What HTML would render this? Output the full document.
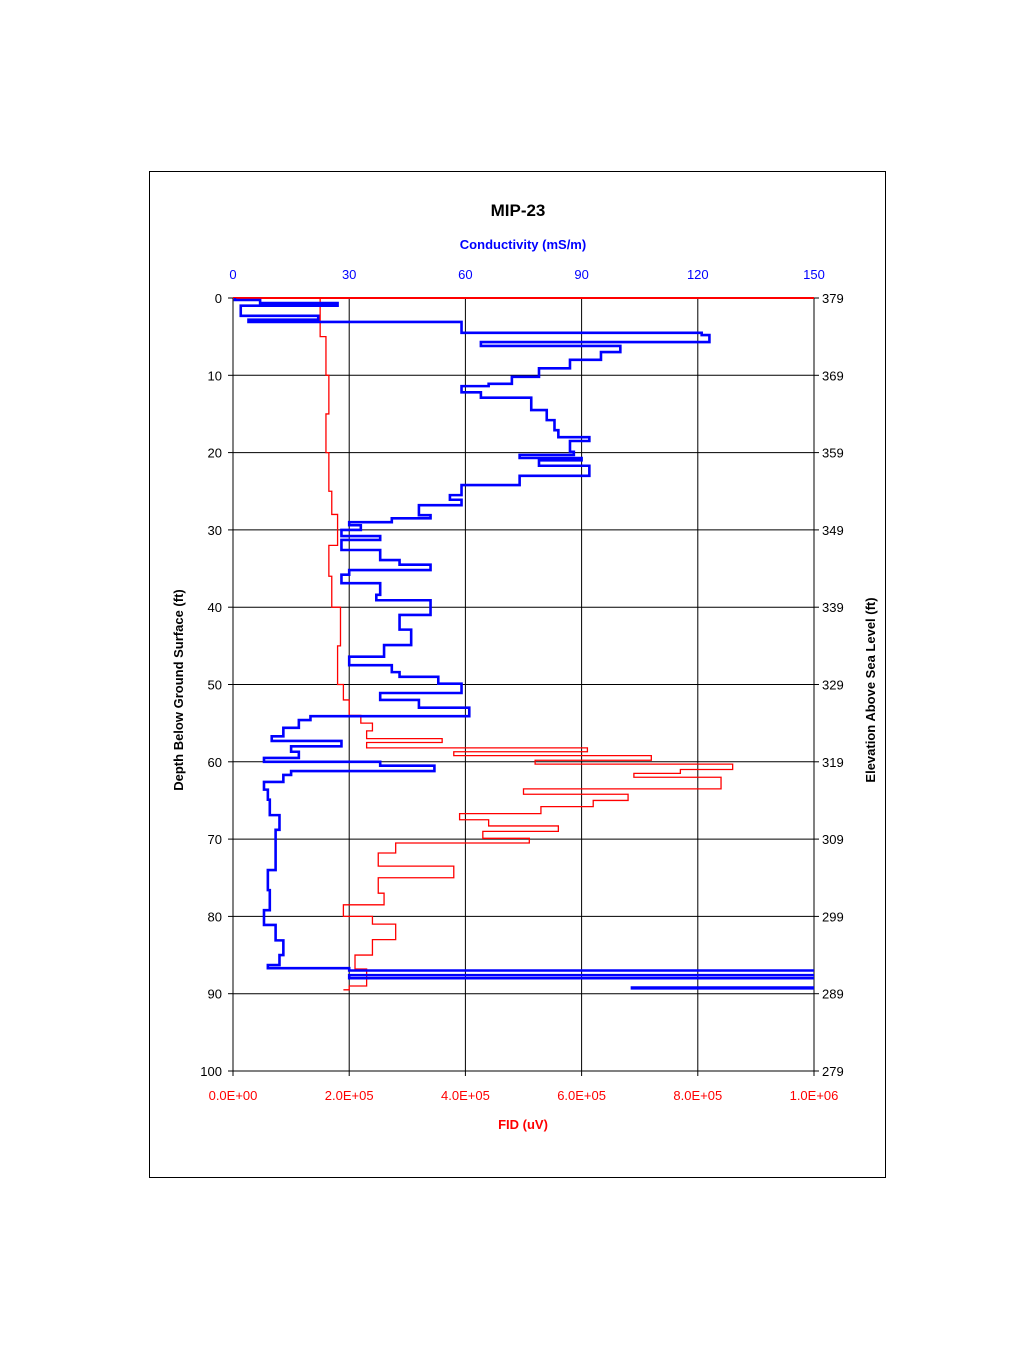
<!DOCTYPE html>
<html><head><meta charset="utf-8"><style>
body{margin:0;background:#fff;}
svg text{font-family:"Liberation Sans",Arial,sans-serif;}
</style></head><body>
<svg width="1024" height="1365" xmlns="http://www.w3.org/2000/svg">
<rect x="149.5" y="171.5" width="736" height="1006" fill="#fff" stroke="#000" stroke-width="1"/>
<text x="518" y="216" font-size="17" font-weight="bold" text-anchor="middle">MIP-23</text>
<text x="523" y="249" font-size="13" font-weight="bold" fill="#0000ff" text-anchor="middle">Conductivity (mS/m)</text>
<text x="523" y="1129" font-size="13" font-weight="bold" fill="#ff0000" text-anchor="middle">FID (uV)</text>
<text transform="translate(183,690) rotate(-90)" font-size="13" font-weight="bold" text-anchor="middle">Depth Below Ground Surface (ft)</text>
<text transform="translate(875,690) rotate(-90)" font-size="13" font-weight="bold" text-anchor="middle">Elevation Above Sea Level (ft)</text>
<g id="grid"></g>
<g id="axes"></g>
<defs><clipPath id="clip"><rect x="233" y="290" width="581" height="790"/></clipPath></defs>
<g id="series" clip-path="url(#clip)"></g>
</svg>
<script>
const depthTicks=[0,10,20,30,40,50,60,70,80,90,100];
const elevTicks=['379','369','359','349','339','329','319','309','299','289','279'];
const condTicks=[0,30,60,90,120,150];
const fidTicks=['0.0E+00','2.0E+05','4.0E+05','6.0E+05','8.0E+05','1.0E+06'];
const condDepth=[0,0.26,0.65,1.0,2.3,2.8,3.1,4.5,4.8,5.7,6.2,7.0,8.0,9.1,10.2,11.1,11.4,12.2,12.9,14.5,15.8,17.1,18.0,18.5,19.9,20.3,20.7,21.0,21.7,23.0,24.2,25.5,26.1,26.8,28.1,28.5,29.0,29.4,30.0,30.8,31.3,32.6,33.9,34.5,35.2,35.8,36.9,38.4,39.1,41.0,42.9,44.9,46.4,47.5,48.4,49.0,49.9,51.1,52.0,53.0,54.1,54.6,55.6,56.7,57.3,58.0,58.7,59.5,60.0,60.5,61.2,61.7,62.6,63.6,64.9,66.9,68.8,71.4,74.0,76.6,79.2,81.1,83.1,85.0,86.3,86.7,87.0,87.6,88.0,88.8,89.2,89.3];
const condValues=[0.5,7,27,2,22,4,59,121,123,64,100,95,87,79,72,66,59,64,77,81,83,84,92,87,88,74,90,79,92,74,59,56,59,48,51,41,30,33,28,38,28,38,43,51,30,28,38,37,51,43,46,39,30,41,43,53,59,38,48,61,20,17,13,10,28,15,17,8,38,52,15,13,8,9,9.5,12,11,11,9,9.5,8,11,13,12,9,30,200,30,200,200,103,200];
const fidDepth=[0,1.5,5,10,15,20,25,28,32,36,40,45,50,52,54,55,56,57,57.5,58.2,58.7,59.2,59.8,60.3,61,61.5,62,62.8,63.5,64.2,65,65.8,66.7,67.5,68.3,69,69.9,70.5,71.8,73.5,75,77,78.5,80,81,83,85,86.8,88,89,89.5];
const fidValues=[1.5,1.5,1.6,1.65,1.6,1.65,1.7,1.8,1.65,1.7,1.85,1.8,1.9,2.0,2.2,2.4,2.3,3.6,2.3,6.1,3.8,7.2,5.2,8.6,7.7,6.9,8.4,8.4,5.0,6.8,6.2,5.3,3.9,4.4,5.6,4.3,5.1,2.8,2.5,3.8,2.5,2.6,1.9,2.4,2.8,2.4,2.1,2.3,2.3,2.0,1.9];
const X0=233,X1=814,Y0=298,Y1=1071,NS='http://www.w3.org/2000/svg';
const yD=d=>Y0+(Y1-Y0)*d/100, xC=c=>X0+(X1-X0)*c/150, xF=f=>X0+(X1-X0)*f/10;
function mk(tag,attrs,parent,text){const e=document.createElementNS(NS,tag);for(const k in attrs)e.setAttribute(k,attrs[k]);if(text!==undefined)e.textContent=text;document.getElementById(parent).appendChild(e);return e;}
depthTicks.forEach((d,i)=>{const y=yD(d);
 const l=mk('line',{x1:X0,x2:X1,y1:y,y2:y,stroke:'#000','stroke-width':1},'grid');
 
 
 const t=mk('text',{x:222,y:y+5,'font-size':13,'text-anchor':'end'},'axes',String(d));
 
 
 const r=mk('text',{x:822,y:y+5,'font-size':13},'axes',elevTicks[i]);
 
 
 mk('line',{x1:X0-5,x2:X0,y1:y,y2:y,stroke:'#000'},'axes');
 mk('line',{x1:X1,x2:X1+5,y1:y,y2:y,stroke:'#000'},'axes');
});
condTicks.forEach((c,i)=>{const x=xC(c);
 const l=mk('line',{x1:x,x2:x,y1:Y0,y2:Y1,stroke:'#000','stroke-width':1},'grid');
 
 
 const t=mk('text',{x:x,y:279,'font-size':13,fill:'#0000ff','text-anchor':'middle'},'axes',String(c));
 
 
 const b=mk('text',{x:x,y:1100,'font-size':13,fill:'#ff0000','text-anchor':'middle'},'axes',fidTicks[i]);
 
 
 mk('line',{x1:x,x2:x,y1:Y1,y2:Y1+5,stroke:'#000'},'axes');
});
const tl=mk('line',{x1:X0,x2:X1,y1:Y0,y2:Y0,stroke:'#ff0000','stroke-width':2},'grid');


function stepPts(depths,vals,fx){const p=[];for(let i=0;i<depths.length;i++){const y=yD(depths[i]);if(i>0)p.push(fx(vals[i-1])+','+y);p.push(fx(vals[i])+','+y);}return p.join(' ');}
const fl=mk('polyline',{points:stepPts(fidDepth,fidValues,xF),fill:'none',stroke:'#ff0000','stroke-width':1.3},'series');


const cl=mk('polyline',{points:stepPts(condDepth,condValues,xC),fill:'none',stroke:'#0000ff','stroke-width':2.6},'series');


</script>
</body></html>
